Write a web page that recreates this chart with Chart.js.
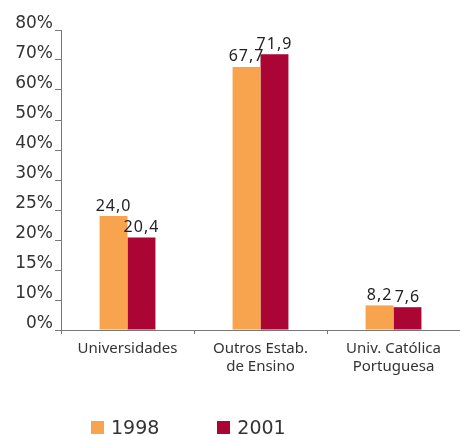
<!DOCTYPE html>
<html lang="pt">
<head>
<meta charset="utf-8">
<script src="https://cdn.jsdelivr.net/npm/chart.js@4/dist/chart.umd.min.js"></script>
<style>
  html, body { margin: 0; padding: 0; background: #ffffff; }
  #wrap { position: relative; width: 460px; height: 436px; }
  #legend { position: absolute; left: 91px; top: 416px; display: flex; font: 19px "DejaVu Sans", sans-serif; color: #333333; }
  #legend span { display: flex; align-items: center; margin-right: 58px; }
  #legend i { display: inline-block; width: 13px; height: 13px; margin-right: 7px; }
</style>
</head>
<body>
<div id="wrap">
  <canvas id="chart" width="460" height="436"></canvas>
  <div id="legend"></div>
</div>
<script>
// Dados.
const categories = ["Universidades", ["Outros Estab.", "de Ensino"], ["Univ. Católica", "Portuguesa"]];
const seriesNames = ["1998", "2001"];
const values1998 = [24.0, 67.7, 8.2];
const values2001 = [20.4, 71.9, 7.6];
const yTickValues = [0, 10, 15, 20, 25, 30, 40, 50, 60, 70, 80];
const seriesColors = ["#F8A44F", "#AA0535"];

// Escala com marcas igualmente espaçadas, mas com intervalos diferentes entre elas.
class BrokenScale extends Chart.LinearScale {
  buildTicks() {
    return yTickValues.map((v) => ({ value: v }));
  }
  toDecimal(value) {
    const b = yTickValues;
    if (value <= b[0]) return 0;
    for (let i = 1; i < b.length; i++) {
      if (value <= b[i]) return (i - 1 + (value - b[i - 1]) / (b[i] - b[i - 1])) / (b.length - 1);
    }
    return 1;
  }
  getPixelForValue(value) {
    return this.getPixelForDecimal(this.toDecimal(value));
  }
  getValueForPixel(pixel) {
    const b = yTickValues;
    const pos = this.getDecimalForPixel(pixel) * (b.length - 1);
    const i = Math.max(0, Math.min(b.length - 2, Math.floor(pos)));
    return b[i] + (pos - i) * (b[i + 1] - b[i]);
  }
}
BrokenScale.id = "broken";
BrokenScale.defaults = Chart.LinearScale.defaults;
Chart.register(BrokenScale);

// Escreve o valor de cada barra por cima dela, com vírgula decimal.
const valueLabels = {
  id: "valueLabels",
  afterDatasetsDraw(chart) {
    const ctx = chart.ctx;
    ctx.save();
    ctx.font = '16px "Noto Sans"';
    ctx.fillStyle = "#222222";
    ctx.textAlign = "center";
    ctx.textBaseline = "bottom";
    ctx.letterSpacing = "1px";
    chart.data.datasets.forEach((ds, i) => {
      chart.getDatasetMeta(i).data.forEach((bar, j) => {
        ctx.fillText(ds.data[j].toFixed(1).replace(".", ","), bar.x, bar.y - 2);
      });
    });
    ctx.restore();
  },
};

// Monta a legenda em HTML por baixo do gráfico.
function renderLegend() {
  document.getElementById("legend").innerHTML = seriesNames
    .map((name, i) => `<span><i style="background:${seriesColors[i]}"></i>${name}</span>`)
    .join("");
}

function createChart() {
  const ctx = document.getElementById("chart").getContext("2d");

  new Chart(ctx, {
    type: "bar",
    data: {
      labels: categories,
      datasets: [
        { label: seriesNames[0], data: values1998, backgroundColor: seriesColors[0] },
        { label: seriesNames[1], data: values2001, backgroundColor: seriesColors[1] },
      ],
    },
    options: {
      responsive: false,
      animation: false,
      layout: { padding: { top: 30, right: 0, left: 0, bottom: 54 } },
      datasets: {
        bar: { barPercentage: 1, categoryPercentage: 0.42 },
      },
      plugins: {
        legend: { display: false },
        tooltip: { enabled: false },
      },
      scales: {
        x: {
          grid: { drawOnChartArea: false, tickLength: 4, color: "#777777" },
          border: { color: "#777777", width: 1 },
          ticks: {
            color: "#333333",
            padding: 6,
            maxRotation: 0,
            font: { family: "Noto Sans", size: 15 },
          },
        },
        y: {
          type: "broken",
          min: 0,
          max: 80,
          afterFit: (scale) => { scale.width = 61; },
          grid: { drawOnChartArea: false, tickLength: 6, color: "#777777" },
          border: { color: "#777777", width: 1 },
          ticks: {
            autoSkip: false,
            color: "#333333",
            padding: 2,
            labelOffset: -6,
            font: { family: "DejaVu Sans", size: 17 },
            callback: (value) => value + "%",
          },
        },
      },
    },
    plugins: [valueLabels],
  });
}

renderLegend();
createChart();
</script>
</body>
</html>
